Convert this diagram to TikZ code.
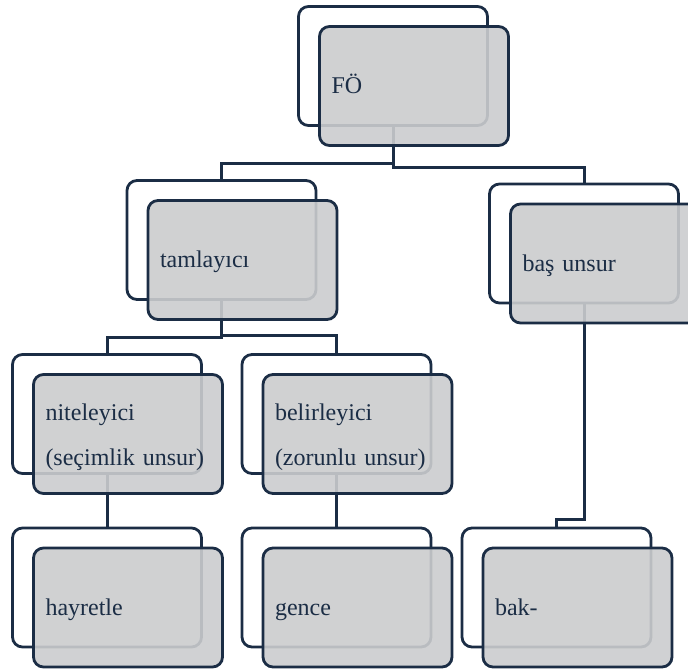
\documentclass[tikz,border=0pt]{standalone}
\usepackage{fontspec}
\setmainfont{Liberation Serif}
\usepackage{xcolor}
\usepackage{tikz}
\definecolor{lacivert}{HTML}{1B2D45}
\definecolor{gri}{HTML}{CBCCCE}
\newcommand\kutustrut{\rule[-4pt]{0pt}{15.5pt}}
\tikzset{
  arkakutu/.style={draw=lacivert,line width=1.4pt,fill=white,rounded corners=5pt,minimum width=94.5pt,minimum height=59.5pt,inner sep=0pt},
  onkutu/.style={draw=lacivert,line width=1.4pt,fill=gri,fill opacity=0.9,text opacity=1,rounded corners=5pt,
    minimum width=94.5pt,minimum height=59.5pt,inner xsep=6pt,inner ysep=0pt,text width=82.5pt,align=left,
    text=lacivert,font=\fontsize{12pt}{22.5pt}\selectfont,execute at begin node=\kutustrut},
  hat/.style={draw=lacivert,line width=1.5pt}
}

\begin{document}
\begin{tikzpicture}[x=0.5pt,y=-0.5pt]
\useasboundingbox (0,0) rectangle (688,668);
% arka kutular
\node[arkakutu] (fo-a) at (393,66) {};
\node[arkakutu] (tam-a) at (221.5,240) {};
\node[arkakutu] (bas-a) at (584,243.5) {};
\node[arkakutu] (nit-a) at (107,414) {};
\node[arkakutu] (bel-a) at (336.5,414) {};
\node[arkakutu] (hay-a) at (107,587.5) {};
\node[arkakutu] (gen-a) at (336.5,587.5) {};
\node[arkakutu] (bak-a) at (556.5,587.5) {};
% baglantilar
\draw[hat] (fo-a.south) -- ++(0,37) -| (tam-a.north);
\draw[hat] (fo-a.south) -- ++(0,41) -| (bas-a.north);
\draw[hat] (tam-a.south) -- ++(0,37) -| (nit-a.north);
\draw[hat] (tam-a.south) -- ++(0,35) -| (bel-a.north);
\draw[hat] (nit-a.south) -- (hay-a.north);
\draw[hat] (bel-a.south) -- (gen-a.north);
\draw[hat] (bas-a.south) -- ++(0,215) -| (bak-a.north);
% on kutular
\node[onkutu] (fo) at ([shift={(21,20)}]fo-a) {FÖ};
\node[onkutu] (tam) at ([shift={(21,20)}]tam-a) {tamlayıcı};
\node[onkutu] (bas) at ([shift={(21,20)}]bas-a) {baş unsur};
\node[onkutu] (nit) at ([shift={(21,20)}]nit-a) {niteleyici\\(seçimlik unsur)};
\node[onkutu] (bel) at ([shift={(21,20)}]bel-a) {belirleyici\\(zorunlu unsur)};
\node[onkutu] (hay) at ([shift={(21,20)}]hay-a) {hayretle};
\node[onkutu] (gen) at ([shift={(21,20)}]gen-a) {gence};
\node[onkutu] (bak) at ([shift={(21,20)}]bak-a) {bak-};
\end{tikzpicture}
\end{document}
